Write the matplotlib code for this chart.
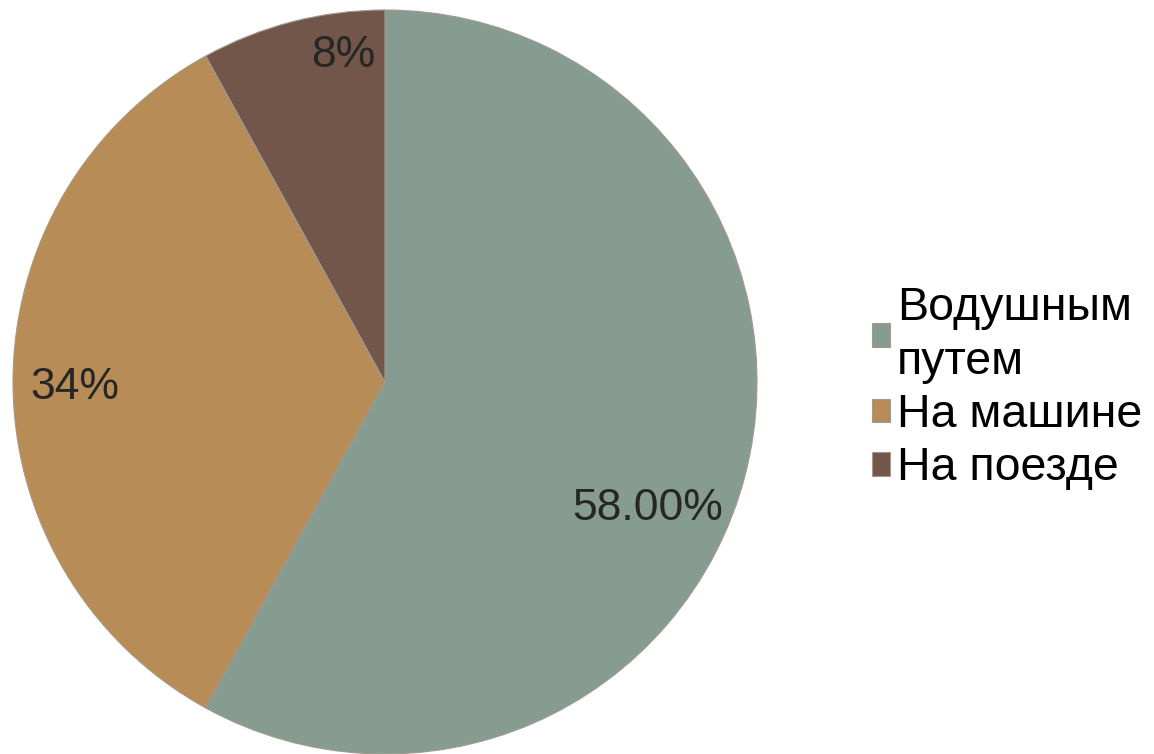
import matplotlib.pyplot as plt

plt.rcParams['font.family'] = ['Liberation Sans', 'DejaVu Sans']

categories = ['Водушным\nпутем', 'На машине', 'На поезде']
shares = [58, 34, 8]
share_labels = ['58.00%', '34%', '8%']
colors = ['#879c90', '#b78c56', '#73564a']

fig = plt.figure(figsize=(11.54, 7.54), dpi=100)
ax = fig.add_axes([13 / 1154, 0 / 754, 744 / 1154, 744 / 754])

wedges, _ = ax.pie(shares, colors=colors, startangle=90, counterclock=False,
                   radius=1, wedgeprops=dict(edgecolor='#a09a90', linewidth=0.8))
ax.set_xlim(-1, 1)
ax.set_ylim(-1, 1)
ax.set_aspect('equal')

# label spots as Excel put them, in pie radius units
label_pos = [(0.707, -0.339), (-0.833, -0.016), (-0.113, 0.879)]
for lab, (x, y) in zip(share_labels, label_pos):
    ax.text(x, y, lab, ha='center', va='center', fontsize=32, color='#262626')

leg = fig.legend(wedges, categories, loc='center left', bbox_to_anchor=(853 / 1154, 1 - 388 / 754),
                 frameon=False, fontsize=33.5, handlelength=0.4, handleheight=0.4,
                 handletextpad=0.15, labelspacing=0.2, borderaxespad=0)
for t in leg.get_texts():
    t.set_linespacing(1.3)

fig.savefig('out.png', dpi=100)
